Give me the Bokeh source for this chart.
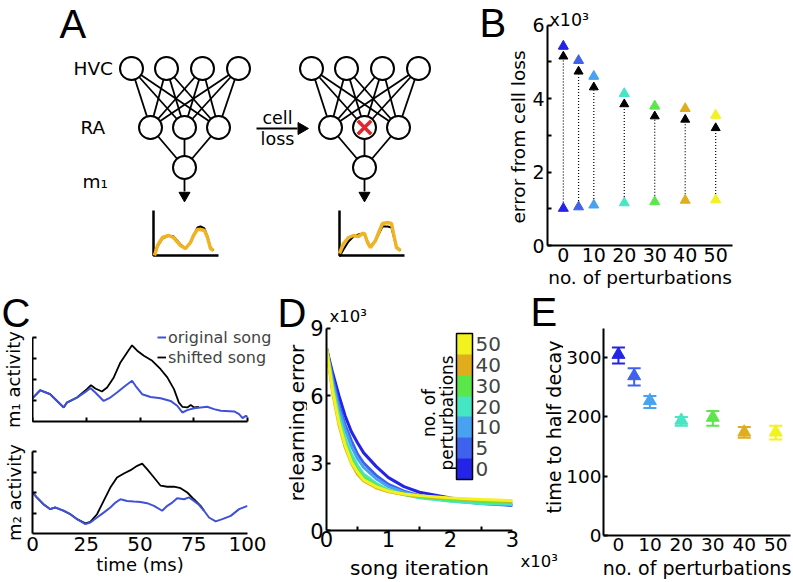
import math
from bokeh.plotting import figure
from bokeh.layouts import row, column
from bokeh.models import (Range1d, FixedTicker, Label, ColorBar, LinearColorMapper,
                          Legend, LegendItem)
from bokeh.core.properties import value
from bokeh.embed import file_html
from bokeh.resources import INLINE

FONT = "DejaVu Sans"
LFONT = "Liberation Sans"

# ------------------------------------------------------------------ data
perturbations = [0, 5, 10, 20, 30, 40, 50]
pert_ticks = [0, 10, 20, 30, 40, 50]
pert_colors = ["#2424e8", "#3f62ee", "#47a3f2", "#45e6c3", "#5be64a", "#e0ad1c", "#f2f21e"]

# panel B (x10^3)
b_after_loss = [5.43, 5.04, 4.61, 4.14, 3.80, 3.73, 3.55]
b_arrow_tip = [5.15, 4.74, 4.31, 3.85, 3.52, 3.43, 3.20]
b_before_loss = [1.01, 1.05, 1.10, 1.16, 1.19, 1.23, 1.24]

# panel E
e_half_decay = [305, 269, 227, 194, 199, 174, 174]
e_upper = [317, 282, 235, 200, 210, 183, 185]
e_lower = [290, 253, 215, 185, 185, 165, 162]

# panel D (x10^3 iterations, x10^3 error)
d_iter = [0, 0.1, 0.2, 0.3, 0.4, 0.5, 0.6, 0.8, 1.0, 1.25, 1.5, 2.0, 2.5, 3.0]
d_err_0 = [8.1, 7.0, 6.0, 5.1, 4.4, 3.9, 3.45, 2.85, 2.35, 1.95, 1.7, 1.45, 1.25, 1.12]
d_err_5 = [8.1, 6.8, 5.6, 4.7, 4.0, 3.4, 3.0, 2.45, 2.05, 1.75, 1.55, 1.35, 1.2, 1.12]
d_err_10 = [8.1, 6.6, 5.4, 4.5, 3.75, 3.2, 2.8, 2.3, 1.95, 1.7, 1.52, 1.32, 1.2, 1.15]
d_err_20 = [8.1, 6.4, 5.1, 4.1, 3.4, 2.9, 2.5, 2.1, 1.8, 1.6, 1.45, 1.3, 1.2, 1.17]
d_err_30 = [8.1, 6.3, 4.9, 3.9, 3.2, 2.7, 2.35, 2.0, 1.75, 1.6, 1.5, 1.38, 1.3, 1.25]
d_err_40 = [8.1, 6.1, 4.7, 3.7, 3.0, 2.5, 2.2, 1.9, 1.72, 1.6, 1.52, 1.42, 1.35, 1.3]
d_err_50 = [8.1, 6.2, 4.8, 3.8, 3.05, 2.6, 2.25, 1.95, 1.75, 1.62, 1.55, 1.45, 1.38, 1.33]
d_curves = [d_err_0, d_err_5, d_err_10, d_err_20, d_err_30, d_err_40, d_err_50]

# panel C (time in ms, activity in tick units)
c1_orig_t = [0, 3.6, 8.2, 14.5, 16.0, 20.7, 25.3, 26.9, 29.2, 33.1, 36.2, 39.3, 43.2, 46.3,
             47.9, 51.0, 54.9, 59.6, 64.2, 67.3, 69.7, 72.0, 75.1, 78.2, 81.3, 84.4, 87.6,
             93.8, 96.1, 97.7, 99.2, 100]
c1_orig_v = [1.11, 1.49, 1.30, 0.67, 0.90, 1.14, 1.46, 1.59, 1.38, 0.98, 1.14, 1.38, 1.70, 1.94,
             1.70, 1.30, 1.17, 1.11, 0.98, 0.75, 0.43, 0.54, 0.63, 0.67, 0.70, 0.59, 0.51,
             0.48, 0.35, 0.16, 0.27, 0.22]
c1_shift_t = [0, 3.6, 8.2, 14.5, 16.0, 20.7, 25.3, 27.2, 29.2, 32.3, 34.7, 37.8, 40.9, 44.0,
              46.3, 48.7, 51.8, 55.7, 59.6, 62.7, 65.8, 68.1, 69.7, 72.0, 73.6, 75.1, 77.4]
c1_shift_v = [1.11, 1.49, 1.30, 0.67, 0.90, 1.14, 1.54, 1.73, 1.57, 1.43, 1.62, 2.10, 2.81, 3.29,
              3.63, 3.37, 3.13, 2.89, 2.49, 2.10, 1.54, 0.90, 0.70, 0.67, 0.79, 0.67, 0.70]
c2_orig_t = [0, 2.0, 5.1, 8.2, 10.6, 14.5, 17.6, 20.7, 24.6, 26.9, 30.0, 33.1, 36.2, 38.6, 40.9,
             44.0, 47.1, 50.2, 53.3, 56.5, 60.3, 62.7, 65.0, 67.3, 70.5, 72.8, 75.1, 77.4, 79.8,
             82.1, 85.2, 88.3, 92.2, 96.1, 100]
c2_orig_v = [2.0, 1.76, 1.43, 1.19, 1.27, 1.11, 0.94, 0.70, 0.46, 0.54, 0.78, 1.02, 1.27, 1.51,
             1.67, 1.59, 1.56, 1.54, 1.48, 1.35, 1.11, 1.35, 1.51, 1.72, 1.67, 1.76, 1.59, 1.40,
             1.11, 0.78, 0.59, 0.70, 0.86, 1.19, 1.35]
c2_shift_t = [0, 2.0, 5.1, 8.2, 10.6, 14.5, 17.6, 20.7, 24.6, 26.9, 30.0, 33.1, 36.2, 39.3, 42.5,
              45.6, 48.7, 51.0, 53.3, 56.5, 59.6, 62.7, 65.8, 68.9, 72.0, 75.1, 78.2, 79.8]
c2_shift_v = [2.0, 1.76, 1.43, 1.19, 1.27, 1.11, 0.94, 0.70, 0.50, 0.57, 0.94, 1.59, 2.24, 2.73,
              2.93, 3.09, 3.30, 3.41, 3.14, 2.73, 2.33, 2.28, 2.29, 2.21, 2.00, 1.67, 1.35, 1.11]

# panel A diagram (schematic units)
hvc_x = [131, 166, 202, 238]
ra_x = [150, 184, 218]
m1_x = [184]
layer_y = {"HVC": 68, "RA": 127, "m1": 167}
net_shift = [0, 180]
song_left_x = [154, 157, 162, 168, 173, 180, 185, 190, 193, 197, 200, 204, 207, 210, 213]
song_left_y = [255, 245, 237, 235, 237, 245, 248, 242, 235, 229, 229, 230, 237, 248, 250]
song_left_fit = [255, 246, 238, 235, 236, 244, 248, 242, 235, 227, 226, 228, 236, 247, 250]
song_right_x = [339, 343, 348, 353, 358, 362, 364, 367, 370, 375, 379, 382, 387, 391, 393, 396, 400]
song_right_y = [253, 243, 237, 235, 236, 233, 233, 242, 247, 240, 230, 223, 222, 223, 233, 247, 250]
song_right_fit = [256, 249, 241, 236, 234, 233, 234, 241, 246, 240, 232, 226, 226, 227, 235, 247, 250]


# ------------------------------------------------------------------ helpers (page px -> data)
def b_x(X): return (X - 561) / 3.08
def b_y(Y): return (248 - Y) / 37.17
def c_x(X): return (X - 32) / 2.15
def c_y(Y): return (421 - Y) / 21.0
def d_x(X): return (X - 324) / 62.67
def d_y(Y): return (533 - Y) / 22.78


def base_fig(xr, yr, w, h, bl=0, br=0, bt=0, bb=0, axes=True):
    kw = {}
    if not axes:
        kw = dict(x_axis_type=None, y_axis_type=None)
    p = figure(x_range=Range1d(*xr), y_range=Range1d(*yr), width=w, height=h,
               min_border_left=bl, min_border_right=br, min_border_top=bt, min_border_bottom=bb,
               output_backend="svg", toolbar_location=None, align="start", **kw)
    p.frame_align = False
    p.grid.visible = False
    p.outline_line_color = None
    p.background_fill_color = "white"
    p.border_fill_color = "white"
    return p


def style_axis(ax, tick_fs, ticks, tick_in=4, standoff=4, labels=None, bounds=None,
               label=None, label_fs="18px", label_standoff=0):
    ax.axis_line_width = 2
    ax.axis_line_color = "black"
    ax.major_tick_line_width = 2
    ax.major_tick_line_color = "black"
    ax.major_tick_in = tick_in
    ax.major_tick_out = 0
    ax.minor_tick_line_color = None
    ax.ticker = FixedTicker(ticks=ticks)
    ax.major_label_text_font = FONT
    ax.major_label_text_font_size = tick_fs
    ax.major_label_text_color = "black"
    ax.major_label_standoff = standoff
    if labels is not None:
        ax.major_label_overrides = labels
    if bounds is not None:
        ax.bounds = bounds
    if label is not None:
        ax.axis_label = label
        ax.axis_label_text_font = FONT
        ax.axis_label_text_font_size = label_fs
        ax.axis_label_text_font_style = "normal"
        ax.axis_label_text_color = "black"
        ax.axis_label_standoff = label_standoff


def lab(p, text, x, y, size, angle=0.0, align="center", baseline="middle", font=FONT):
    p.add_layout(Label(x=x, y=y, text=text, angle=angle, text_font=font,
                       text_font_size=f"{size}px", text_align=align,
                       text_baseline=baseline, text_color="black"))


def txt(p, xs, ys, texts, size, angle=0.0, align="center", baseline="middle", font=FONT):
    p.text(xs, ys, text=texts, angle=angle, text_font=value(font),
           text_font_size=value(f"{size}px"), text_align=align, text_baseline=baseline,
           text_color="black")


LETTER = 40
VERT = math.pi / 2

# ------------------------------------------------------------------ panel A (+ B letter/label)
pa = base_fig((0, 529), (290, 0), 529, 290, axes=False)
for k, s in enumerate(net_shift):
    hx = [x + s for x in hvc_x]
    rx = [x + s for x in ra_x]
    mx = [x + s for x in m1_x]
    x0, y0, x1, y1 = [], [], [], []
    for a in hx:
        for b in rx:
            x0.append(a); y0.append(layer_y["HVC"]); x1.append(b); y1.append(layer_y["RA"])
    for b in rx:
        x0.append(b); y0.append(layer_y["RA"]); x1.append(mx[0]); y1.append(layer_y["m1"])
    pa.segment(x0, y0, x1, y1, line_color="black", line_width=1.8)
    allx = hx + rx + mx
    ally = [layer_y["HVC"]] * 4 + [layer_y["RA"]] * 3 + [layer_y["m1"]]
    pa.scatter(allx, ally, marker="circle", size=23, fill_color="white",
               line_color="black", line_width=2)
    pa.segment([mx[0]], [layer_y["m1"] + 12], [mx[0]], [layer_y["m1"] + 24],
               line_color="black", line_width=1.8)
    pa.scatter([mx[0]], [layer_y["m1"] + 28], marker="inverted_triangle", size=11,
               fill_color="black", line_color="black")
    ox = rx[0] + 3 if k == 0 else rx[0] + 9
    pa.line([ox, ox, ox + 65], [210, 255, 255], line_color="black", line_width=2.5)

pa.line(song_left_x, song_left_fit, line_color="black", line_width=2)
pa.line(song_left_x, song_left_y, line_color="#f0b323", line_width=3.5)
pa.line(song_right_x, song_right_fit, line_color="black", line_width=2)
pa.line(song_right_x, song_right_y, line_color="#f0b323", line_width=3.5)
pa.scatter([ra_x[1] + net_shift[1]], [layer_y["RA"]], marker="x", size=19,
           line_color="#e3262b", line_width=3.5)
pa.segment([256], [128], [297], [128], line_color="black", line_width=1.8)
pa.scatter([301], [128], marker="triangle", angle=-math.pi / 2, size=12,
           fill_color="black", line_color="black")
txt(pa, [277, 277], [117, 138], ["cell", "loss"], 17.5)
txt(pa, [73, 80, 82], [layer_y["HVC"], layer_y["RA"], 181], ["HVC", "RA", "m₁"], 18.5,
    align="left")
txt(pa, [59, 479], [23.5, 22.5], ["A", "B"], LETTER, align="left", font=LFONT)
txt(pa, [518], [136.5], ["error from cell loss"], 18.5, angle=VERT)

# ------------------------------------------------------------------ panel B
pb = base_fig((b_x(545), b_x(732)), (b_y(248), b_y(0)), 264, 290, bl=16, br=61, bt=0, bb=42)
style_axis(pb.yaxis[0], "19px", [0, 1, 2, 3, 4, 5, 6], tick_in=4, standoff=3,
           labels={1: "", 3: "", 5: ""}, bounds=(0, 6))
style_axis(pb.xaxis[0], "19px", pert_ticks, tick_in=0, standoff=2,
           label="no. of perturbations", label_fs="18.5px", label_standoff=2)
pb.segment(perturbations, b_before_loss, perturbations, [v - 0.08 for v in b_arrow_tip],
           line_color="black", line_width=1.2, line_dash="1 2")
pb.scatter(perturbations, b_arrow_tip, marker="triangle", size=9, fill_color="black",
           line_color="black")
pb.scatter(perturbations, b_before_loss, marker="triangle", size=10, fill_color=pert_colors,
           line_color=pert_colors)
pb.scatter(perturbations, b_after_loss, marker="triangle", size=10, fill_color=pert_colors,
           line_color=pert_colors)
pb.scatter(perturbations, [v - 0.07 for v in b_after_loss], marker="dash", size=9,
           line_color=pert_colors, line_width=2)
lab(pb, "x10³", b_x(547), b_y(20), 17.5, align="left")

# ------------------------------------------------------------------ panel C
BLUE = "#3f52d6"
psc = base_fig((0, 32), (436, 290), 32, 146, axes=False)
txt(psc, [1], [312], ["C"], LETTER, align="left", font=LFONT)
txt(psc, [13], [379], ["m₁ activity"], 18, angle=VERT)

pc1 = base_fig((0, c_x(275)), (0, c_y(290)), 243, 146, bl=0, br=0, bt=0, bb=15)
style_axis(pc1.yaxis[0], "0px", [1, 2, 3, 4], tick_in=4, standoff=0,
           labels={1: "", 2: "", 3: "", 4: ""}, bounds=(0, 4))
style_axis(pc1.xaxis[0], "0px", [0, 25, 50, 75, 100], tick_in=4, standoff=0,
           labels={0: "", 25: "", 50: "", 75: "", 100: ""}, bounds=(0, 100))
r_shift = pc1.line(c1_shift_t, c1_shift_v, line_color="black", line_width=1.8)
r_orig = pc1.line(c1_orig_t, c1_orig_v, line_color=BLUE, line_width=2)
leg = Legend(items=[LegendItem(label="original song", renderers=[r_orig]),
                    LegendItem(label="shifted song", renderers=[r_shift])],
             location=(157 - 32, 421 - 367),
             label_text_font=FONT, label_text_font_size="16px", glyph_width=9,
             glyph_height=20, label_height=20, label_standoff=2, padding=0, margin=0,
             spacing=0, border_line_color=None, background_fill_alpha=0)
pc1.add_layout(leg)

pc2 = base_fig((0, 100), (0, 4), 275, 146, bl=32, br=28, bt=15, bb=49)
style_axis(pc2.yaxis[0], "0px", [1, 2, 3, 4], tick_in=4, standoff=0,
           labels={1: "", 2: "", 3: "", 4: ""}, label="m₂ activity", label_fs="18px",
           label_standoff=8)
style_axis(pc2.xaxis[0], "20px", [0, 25, 50, 75, 100], tick_in=0, standoff=3,
           label="time (ms)", label_fs="18px", label_standoff=0)
pc2.line(c2_shift_t, c2_shift_v, line_color="black", line_width=1.8)
pc2.line(c2_orig_t, c2_orig_v, line_color=BLUE, line_width=2)

# ------------------------------------------------------------------ strip holding D's letter / y label
ps1 = base_fig((275, 307), (582, 290), 32, 292, axes=False)
txt(ps1, [277], [312], ["D"], LETTER, align="left", font=LFONT)
txt(ps1, [296], [422.5], ["relearning error"], 20, angle=VERT)

# ------------------------------------------------------------------ panel D
pd = base_fig((0, 3), (0, d_y(290)), 212, 292, bl=17, br=7, bt=0, bb=49)
style_axis(pd.yaxis[0], "21px", [0, 3, 6, 9], tick_in=4, standoff=3, bounds=(0, 9))
style_axis(pd.xaxis[0], "21px", [0, 1, 2, 3], tick_in=0, standoff=0,
           label="song iteration", label_fs="20px", label_standoff=6)
pd.xaxis[0].ticker = FixedTicker(ticks=[0, 1, 2, 3], minor_ticks=[0.5, 1.5, 2.5])
pd.xaxis[0].minor_tick_line_color = "black"
pd.xaxis[0].minor_tick_line_width = 2
pd.xaxis[0].minor_tick_in = 4
pd.xaxis[0].minor_tick_out = 0
for ys, col in zip(d_curves, pert_colors):
    pd.line(d_iter, ys, line_color=col, line_width=3)

mapper = LinearColorMapper(palette=pert_colors, low=-0.5, high=6.5)
cb = ColorBar(color_mapper=mapper, ticker=FixedTicker(ticks=list(range(7))),
              major_label_overrides={i: str(v) for i, v in enumerate(perturbations)},
              location=(454 - 324, 533 - 482), width=16, height=146, padding=0, margin=0,
              label_standoff=3, major_tick_line_color=None, bar_line_color="black",
              bar_line_width=1.5, major_label_text_font=FONT,
              major_label_text_font_size="20px", background_fill_alpha=0,
              border_line_color=None)
pd.add_layout(cb)
lab(pd, "no. of", d_x(428), d_y(414), 17, angle=VERT)
lab(pd, "perturbations", d_x(445.5), d_y(414), 17, angle=VERT)
lab(pd, "x10³", d_x(327), d_y(316), 16.5, align="left")

# ------------------------------------------------------------------ strip holding E's letter / y label
ps2 = base_fig((519, 563), (582, 290), 44, 292, axes=False)
txt(ps2, [530], [311], ["E"], LETTER, align="left", font=LFONT)
txt(ps2, [553], [426.5], ["time to half decay"], 19, angle=VERT)
txt(ps2, [520], [561], ["x10³"], 16.5, align="left")  # multiplier of panel D's x axis

# ------------------------------------------------------------------ panel E
pe = base_fig((-4.75, 54.7), (0, 349), 230, 292, bl=39, br=3, bt=38, bb=47)
style_axis(pe.yaxis[0], "18.5px", [0, 100, 200, 300], tick_in=4, standoff=2)
style_axis(pe.xaxis[0], "18.5px", pert_ticks, tick_in=0, standoff=2,
           label="no. of perturbations", label_fs="19px", label_standoff=3)
pe.segment(perturbations, e_lower, perturbations, e_upper, line_color=pert_colors, line_width=2)
pe.scatter(perturbations, e_upper, marker="dash", size=13, line_color=pert_colors, line_width=2)
pe.scatter(perturbations, e_lower, marker="dash", size=13, line_color=pert_colors, line_width=2)
pe.scatter(perturbations, e_half_decay, marker="triangle", size=13, fill_color=pert_colors,
           line_color=pert_colors)

# ------------------------------------------------------------------ layout
top = row(pa, pb, align="start")
left_c = column(row(psc, pc1, align="start"), pc2, align="start")
bottom = row(left_c, ps1, pd, ps2, pe, align="start")
layout = column(top, bottom, align="start")
open("out.html", "w").write(file_html(layout, INLINE))
